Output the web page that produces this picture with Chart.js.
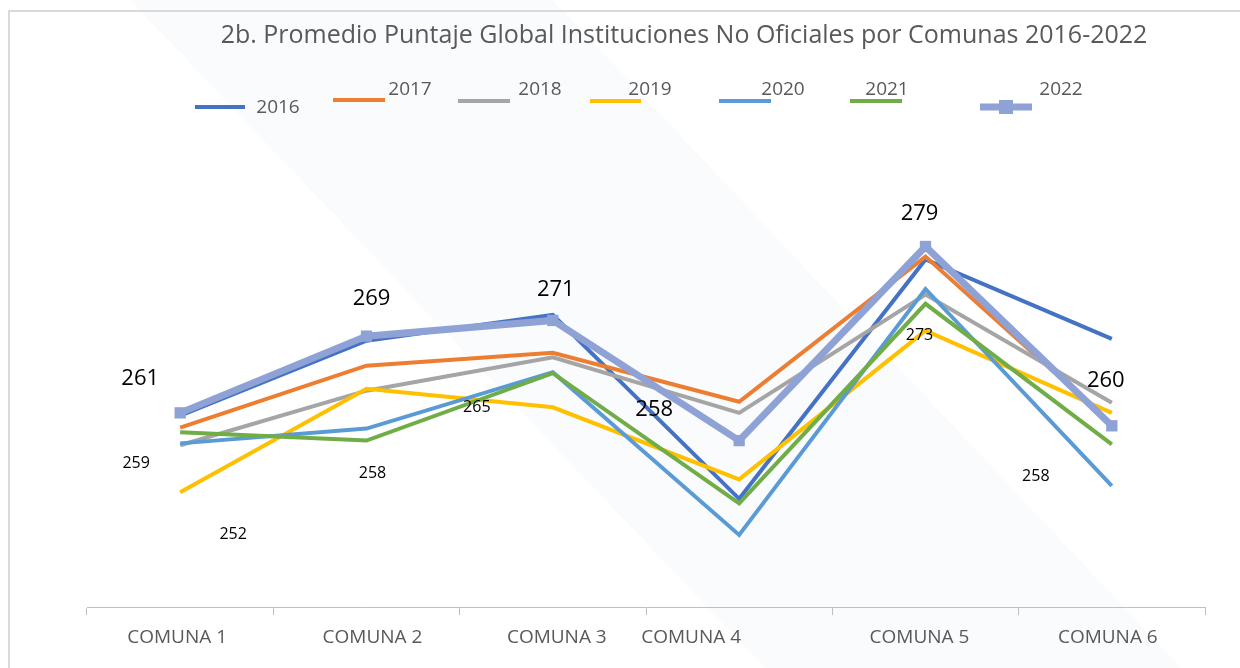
<!DOCTYPE html>
<html>
<head>
<meta charset="utf-8">
<script src="https://cdn.jsdelivr.net/npm/chart.js@4"></script>
<style>
  html, body { margin: 0; padding: 0; background: #ffffff; }
  #wrap { width: 1240px; height: 668px; position: relative; }
</style>
</head>
<body>
<div id="wrap"><canvas id="myChart" width="1240" height="668"></canvas></div>
<script>
// data
const comunas = ["COMUNA 1", "COMUNA 2", "COMUNA 3", "COMUNA 4", "COMUNA 5", "COMUNA 6"];
const years = ["2016", "2017", "2018", "2019", "2020", "2021", "2022"];
const values2016 = [260.7, 268.8, 271.6, 251.7, 277.6, 269.0];
const values2017 = [259.4, 266.1, 267.5, 262.2, 277.9, 259.8];
const values2018 = [257.5, 263.4, 267.0, 261.0, 273.8, 262.1];
const values2019 = [252.4, 263.6, 261.6, 253.8, 269.9, 261.0];
const values2020 = [257.7, 259.3, 265.4, 247.8, 274.4, 253.1];
const values2021 = [258.9, 258.0, 265.3, 251.2, 272.8, 257.6];
const values2022 = [261.0, 269.3, 271.0, 258.0, 279.0, 259.6];
const yMin = 240;
const yMax = 285;

const colors = ["#4472C4", "#ED7D31", "#A5A5A5", "#FFC000", "#5B9BD5", "#70AD47", "#8FA2D6"];
const allValues = [values2016, values2017, values2018, values2019, values2020, values2021, values2022];

// which points carry a value label, and where it sits relative to the point
const labelSpecs = {
    6: { size: 22, offsets: [[-40, -34], [5, -37], [3, -31], [-85, -31], [-6, -33], [-6, -45]] },
    5: { size: 16, offsets: [[-44, 31], [6, 33], [-76, 34], null, [-6, 32], [-76, 32]] },
    3: { size: 16, offsets: [[53, 42], null, null, null, null, null] }
};

// legend placement (the original legend is not on one line)
const legendSpots = [
    { line: [195, 245, 107], text: [278, 108] },
    { line: [333, 385, 100], text: [410, 90] },
    { line: [458, 510, 101], text: [540, 90] },
    { line: [590, 641, 101], text: [650, 90] },
    { line: [719, 771, 101], text: [783, 90] },
    { line: [850, 902, 101], text: [887, 90] },
    { line: [980, 1032, 107], text: [1061, 90] }
];

// x positions of the axis labels in the original (not quite centred)
const tickShift = [-3, 6, 4, -48, -6, -4];

const FONT = "'Open Sans', sans-serif";

const backgroundPlugin = {
    id: 'backgroundPlugin',
    beforeDraw(chart) {
        let ctx = chart.ctx;
        ctx.save();
        ctx.fillStyle = "#ffffff";
        ctx.fillRect(0, 0, chart.width, chart.height);
        // faint diagonal band behind the plot
        ctx.fillStyle = "rgba(236, 239, 248, 0.28)";
        ctx.beginPath();
        ctx.moveTo(130, 0);
        ctx.lineTo(553, 0);
        ctx.lineTo(1181, 668);
        ctx.lineTo(765, 668);
        ctx.closePath();
        ctx.fill();
        // frame
        ctx.strokeStyle = "#d9d9d9";
        ctx.lineWidth = 2;
        ctx.strokeRect(9, 11, chart.width + 20, chart.height + 20);
        ctx.restore();
    }
};

const decorPlugin = {
    id: 'decorPlugin',
    afterDraw(chart) {
        let ctx = chart.ctx;
        ctx.save();

        // title
        ctx.fillStyle = "#595959";
        ctx.font = "25px " + FONT;
        ctx.textAlign = "center";
        ctx.textBaseline = "middle";
        ctx.fillText("2b. Promedio Puntaje Global Instituciones No Oficiales por Comunas 2016-2022", 684, 36);

        // legend
        legendSpots.forEach((spot, i) => {
            ctx.strokeStyle = colors[i];
            ctx.lineWidth = i === 6 ? 7 : 4;
            ctx.beginPath();
            ctx.moveTo(spot.line[0], spot.line[2]);
            ctx.lineTo(spot.line[1], spot.line[2]);
            ctx.stroke();
            if (i === 6) {
                ctx.fillStyle = colors[i];
                ctx.fillRect((spot.line[0] + spot.line[1]) / 2 - 7, spot.line[2] - 7, 14, 14);
            }
            ctx.fillStyle = "#595959";
            ctx.font = "19px " + FONT;
            ctx.textAlign = "center";
            ctx.fillText(years[i], spot.text[0], spot.text[1]);
        });

        // axis labels
        let xs = chart.scales.x;
        ctx.font = "19px " + FONT;
        comunas.forEach((c, i) => {
            ctx.fillText(c, xs.getPixelForTick(i) + tickShift[i], 638);
        });
        ctx.restore();
    },
    afterDatasetsDraw(chart) {
        let ctx = chart.ctx;
        ctx.save();
        ctx.fillStyle = "#000000";
        ctx.textAlign = "center";
        ctx.textBaseline = "middle";
        for (let key in labelSpecs) {
            if (labelSpecs.hasOwnProperty(key)) {
                let spec = labelSpecs[key];
                let meta = chart.getDatasetMeta(Number(key));
                ctx.font = spec.size + "px " + FONT;
                meta.data.forEach((pt, j) => {
                    let off = spec.offsets[j];
                    if (!off) return;
                    let v = chart.data.datasets[key].data[j];
                    ctx.fillText(Math.round(v).toString(), pt.x + off[0], pt.y + off[1]);
                });
            }
        }
        ctx.restore();
    }
};

const datasets = years.map((year, i) => ({
    label: year,
    data: allValues[i],
    borderColor: colors[i],
    backgroundColor: colors[i],
    borderWidth: i === 6 ? 7 : 4,
    pointRadius: i === 6 ? 8 : 0,
    pointHoverRadius: i === 6 ? 8 : 0,
    pointStyle: 'rect',
    pointBorderWidth: 0,
    tension: 0,
    order: -i
}));

let ctx = document.getElementById('myChart').getContext('2d');
window.myChart = new Chart(ctx, {
    type: 'line',
    data: {
        labels: comunas,
        datasets: datasets
    },
    plugins: [backgroundPlugin, decorPlugin],
    options: {
        responsive: false,
        animation: false,
        layout: {
            padding: { top: 191, left: 87, right: 35, bottom: 0 }
        },
        plugins: {
            legend: { display: false },
            title: { display: false },
            tooltip: { enabled: false }
        },
        scales: {
            y: {
                display: false,
                min: yMin,
                max: yMax
            },
            x: {
                offset: true,
                grid: {
                    offset: true,
                    drawOnChartArea: false,
                    tickLength: 8,
                    color: "#bfbfbf",
                    tickColor: "#bfbfbf"
                },
                border: { color: "#bfbfbf", width: 1 },
                ticks: {
                    display: false
                },
                afterFit: (scale) => { scale.height = 61; }
            }
        }
    }
});
</script>
</body>
</html>
